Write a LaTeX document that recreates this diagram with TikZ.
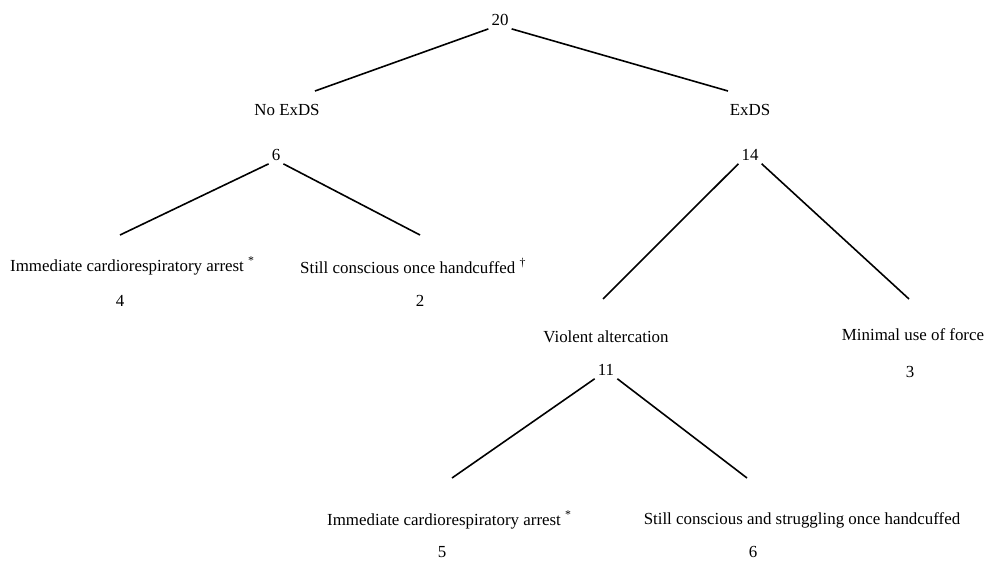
\documentclass[tikz,border=0pt]{standalone}
\usepackage{fontspec}
\setmainfont{Liberation Serif}

\begin{document}
\begin{tikzpicture}[x=1pt,y=-1pt,
    lbl/.style={inner sep=0pt,font=\fontsize{16.9}{20}\selectfont},
    num/.style={inner sep=3pt,font=\fontsize{16.9}{20}\selectfont},
    edge/.style={line width=1.6pt}]
  \useasboundingbox (0,0) rectangle (987,562);
      \node (n20) at (500,20) [num] {20};
      \node (noexds) at (287,110) [lbl] {No ExDS};
      \node (exds) at (750,110) [lbl] {ExDS};
      \node (n6a) at (276,155) [num] {6};
      \node (n14) at (750,155) [num] {14};
      \node (arrest1) at (10,266) [lbl,anchor=west] {Immediate cardiorespiratory arrest \textsuperscript{*}};
      \node (conscious1) at (300,266) [lbl,anchor=west] {Still conscious once handcuffed \textsuperscript{†}};
      \node (n4) at (120,301) [num] {4};
      \node (n2) at (420,301) [num] {2};
      \node (violent) at (606,337) [lbl] {Violent altercation};
      \node (minimal) at (913,335) [lbl] {Minimal use of force};
      \node (n11) at (606,370) [num] {11};
      \node (n3) at (910,372) [num] {3};
      \node (arrest2) at (327,520) [lbl,anchor=west] {Immediate cardiorespiratory arrest \textsuperscript{*}};
      \node (struggle) at (802,520) [lbl] {Still conscious and struggling once handcuffed};
      \node (n5) at (442,552) [num] {5};
      \node (n6b) at (753,552) [num] {6};
      % free ends of the branches, just above each child
      \coordinate (e-noexds) at (315,91);
      \coordinate (e-exds) at (728,91);
      \coordinate (e-arrest1) at (120,235);
      \coordinate (e-conscious1) at (420,235);
      \coordinate (e-violent) at (603,299);
      \coordinate (e-minimal) at (909,299);
      \coordinate (e-arrest2) at (452,478);
      \coordinate (e-struggle) at (747,478);
      \foreach \p/\a/\b in {n20/noexds/exds, n6a/arrest1/conscious1, n14/violent/minimal, n11/arrest2/struggle} {
        \draw[edge] (\p.south west) to (e-\a)  (\p.south east) to (e-\b);
      }
\end{tikzpicture}
\end{document}
